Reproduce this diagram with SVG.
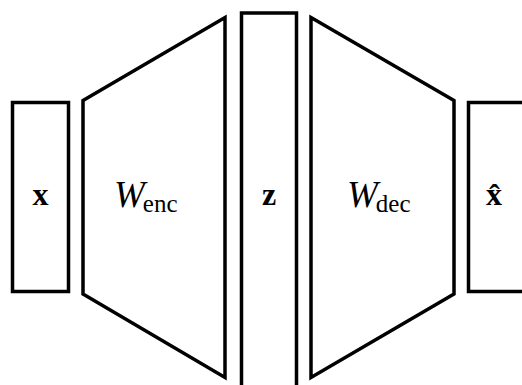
<svg xmlns="http://www.w3.org/2000/svg" width="522" height="385" viewBox="0 0 522 385">
<style>
.s{fill:#fff;stroke:#000;stroke-width:3.5;stroke-linejoin:miter}
.b{font-family:"Liberation Serif",serif;font-weight:bold;font-size:32px;text-anchor:middle}
.w{font-family:"Liberation Serif",serif;font-style:italic;font-size:37px}
.sub{font-family:"Liberation Serif",serif;font-size:25px;font-style:normal}
</style>
<rect width="522" height="385" fill="#fff"/>
<g id="x">
<rect class="s" x="12.5" y="102.5" width="56" height="189"/>
<text class="b" x="40.5" y="205">x</text>
</g>
<g id="enc">
<polygon class="s" points="83,100.5 225,17.5 225,377.5 83,294"/>
<text x="114" y="207"><tspan class="w">W</tspan><tspan class="sub" dx="-2" dy="5">enc</tspan></text>
</g>
<g id="z">
<rect class="s" x="241.5" y="13" width="55" height="374"/>
<text class="b" x="269" y="205">z</text>
</g>
<g id="dec">
<polygon class="s" points="311,17.5 454,100.5 454,294 311,377.5"/>
<text x="347" y="207"><tspan class="w">W</tspan><tspan class="sub" dx="-2" dy="5">dec</tspan></text>
</g>
<g id="xhat">
<rect class="s" x="468.5" y="102.5" width="60" height="189"/>
<text class="b" x="494" y="205">x̂</text>
</g>
<g id="connectors"/>
</svg>
